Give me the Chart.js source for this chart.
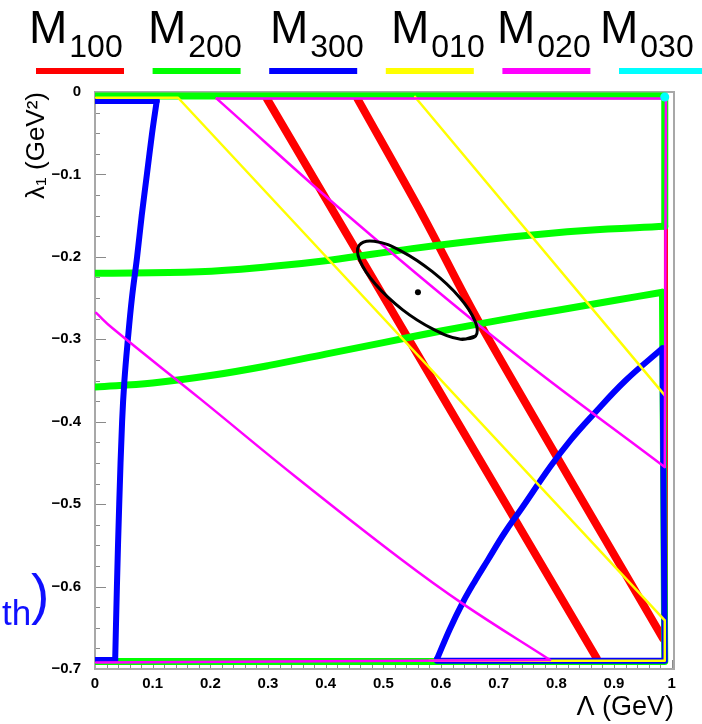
<!DOCTYPE html>
<html>
<head>
<meta charset="utf-8">
<script src="https://cdn.jsdelivr.net/npm/chart.js@4"></script>
<style>
  html, body { margin: 0; padding: 0; background: #fff; }
  canvas { display: block; }
</style>
</head>
<body>
<canvas id="plot" width="702" height="724"></canvas>
<script>
// moment labels (subscripts) and their colours
const moments = ["100", "200", "300", "010", "020", "030"];
const colors = ["#ff0000", "#00ff00", "#0000ff", "#ffff00", "#ff00ff", "#00ffff"];

// axis ticks
const xTicks = [0, 0.1, 0.2, 0.3, 0.4, 0.5, 0.6, 0.7, 0.8, 0.9, 1];
const xTickLabels = ["0", "0.1", "0.2", "0.3", "0.4", "0.5", "0.6", "0.7", "0.8", "0.9", "1"];
const yTicks = [0, -0.1, -0.2, -0.3, -0.4, -0.5, -0.6, -0.7];
const yTickLabels = ["0", "\u22120.1", "\u22120.2", "\u22120.3", "\u22120.4", "\u22120.5", "\u22120.6", "\u22120.7"];

// contour bands, [Lambda, lambda1] pairs; "edge" parts run along the plot border
const m100a = [[0.298, -0.008], [0.870, -0.687]];
const m100b = [[0.455, -0.008], [0.570, -0.152], [0.665, -0.278], [0.985, -0.663]];
const m100edge = [[0.990, -0.163], [0.990, -0.663]];

const m200edgeA = [[0, -0.005], [0.988, -0.005], [0.988, -0.163]];
const m200a = [[0.988, -0.163], [0.85, -0.168], [0.72, -0.176], [0.55, -0.190], [0.407, -0.204],
  [0.30, -0.212], [0.18, -0.218], [0, -0.220]];
const m200b = [[0, -0.358], [0.1, -0.353], [0.2, -0.344], [0.3, -0.332], [0.4, -0.318],
  [0.5, -0.304], [0.6, -0.290], [0.7, -0.277], [0.8, -0.265], [0.9, -0.253], [0.984, -0.243]];
const m200edgeB = [[0.984, -0.243], [0.988, -0.691], [0, -0.691]];

const m300edgeA = [[0.002, -0.011], [0.107, -0.011]];
const m300a = [[0.107, -0.011], [0.099, -0.05], [0.090, -0.1], [0.081, -0.15], [0.073, -0.2],
  [0.064, -0.25], [0.057, -0.3], [0.051, -0.35], [0.047, -0.4], [0.042, -0.5], [0.038, -0.6],
  [0.035, -0.689]];
const m300edgeA2 = [[0.035, -0.689], [0.002, -0.689]];
const m300b = [[0.593, -0.688], [0.615, -0.652], [0.638, -0.619], [0.660, -0.592], [0.681, -0.568],
  [0.710, -0.535], [0.740, -0.505], [0.789, -0.455], [0.825, -0.422], [0.863, -0.392],
  [0.920, -0.350], [0.984, -0.311]];
const m300edgeB = [[0.984, -0.311], [0.988, -0.690], [0.593, -0.690], [0.593, -0.688]];

const m010a = [[0.002, -0.007], [0.144, -0.007], [0.988, -0.641], [0.988, -0.690], [0.580, -0.690]];
const m010b = [[0.555, -0.006], [0.988, -0.368]];

const m020a = [[0.211, -0.008], [0.442, -0.152], [0.714, -0.310], [0.988, -0.455]];
const m020edgeA = [[0.988, -0.455], [0.990, -0.008], [0.211, -0.008]];
const m020b = [[0.002, -0.268], [0.031, -0.287], [0.182, -0.372], [0.350, -0.468], [0.529, -0.566],
  [0.638, -0.621], [0.789, -0.689]];
const m020edgeB = [[0.789, -0.689], [0.002, -0.692]];

const m030 = [[0.988, -0.006]];

// fit contour and best point
const fitContour = [[0.660, -0.296], [0.634, -0.300], [0.587, -0.288], [0.533, -0.264], [0.486, -0.233],
  [0.459, -0.204], [0.458, -0.186], [0.484, -0.181], [0.531, -0.193], [0.585, -0.218],
  [0.632, -0.249], [0.659, -0.278], [0.660, -0.296], [0.634, -0.300]];
const bestFit = [[0.560, -0.243]];

const toXY = pts => pts.map(p => ({ x: p[0], y: p[1] }));

function band(points, color, width, tension) {
  return {
    data: toXY(points),
    showLine: true,
    borderColor: color,
    backgroundColor: color,
    borderWidth: width,
    borderJoinStyle: "round",
    borderCapStyle: "round",
    pointRadius: 0,
    tension: tension || 0,
    fill: false
  };
}

const datasets = [
  band(m100edge, colors[0], 4),
  band(m100a, colors[0], 8),
  band(m100b, colors[0], 8, 0.3),
  band(m200edgeA, colors[1], 7),
  band(m200a, colors[1], 7, 0.4),
  band(m200b, colors[1], 7, 0.4),
  band(m200edgeB, colors[1], 7),
  band(m300edgeA, colors[2], 6),
  band(m300a, colors[2], 6, 0.4),
  band(m300edgeA2, colors[2], 6),
  band(m300b, colors[2], 6, 0.4),
  band(m300edgeB, colors[2], 6),
  band(m010a, colors[3], 2.5),
  band(m010b, colors[3], 2.5),
  band(m020a, colors[4], 2.5, 0.4),
  band(m020edgeA, colors[4], 2.5),
  band(m020b, colors[4], 2.5, 0.4),
  band(m020edgeB, colors[4], 2.5),
  { data: toXY(m030), showLine: false, pointRadius: 4.5, pointBorderWidth: 0, backgroundColor: colors[5] },
  band(fitContour, "#000000", 3, 0.4),
  { data: toXY(bestFit), showLine: false, pointRadius: 3, pointBorderWidth: 0, backgroundColor: "#000000" }
];
// later datasets go on top
datasets.forEach((d, i) => { d.order = datasets.length - i; });

const decor = {
  id: "decor",
  beforeDatasetsDraw(chart) {
    const { ctx, chartArea: a, scales: { x, y } } = chart;
    ctx.save();
    ctx.strokeStyle = "#8a8a8a";
    ctx.lineWidth = 1;
    ctx.beginPath();
    for (let i = 0; i <= 50; i++) {
      const px = Math.round(x.getPixelForValue(i * 0.02)) + 0.5;
      const len = i % 5 === 0 ? 9 : 5;
      ctx.moveTo(px, a.bottom);
      ctx.lineTo(px, a.bottom - len);
    }
    for (let i = 0; i <= 28; i++) {
      const py = Math.round(y.getPixelForValue(-i * 0.025)) + 0.5;
      const len = i % 4 === 0 ? 11 : 5;
      ctx.moveTo(a.left, py);
      ctx.lineTo(a.left + len, py);
    }
    ctx.stroke();
    ctx.strokeStyle = "#a8a8a8";
    ctx.lineWidth = 2;
    ctx.strokeRect(a.left, a.top, a.right - a.left, a.bottom - a.top);
    ctx.restore();
  },
  afterDraw(chart) {
    const ctx = chart.ctx;
    const textX = [29, 148, 270, 391, 497, 600];
    ctx.save();
    ctx.fillStyle = "#000";
    ctx.textBaseline = "alphabetic";
    moments.forEach((m, i) => {
      ctx.font = "46px 'Liberation Sans', Arial, sans-serif";
      ctx.fillText("M", textX[i], 43);
      const w = ctx.measureText("M").width;
      ctx.font = "32px 'Liberation Sans', Arial, sans-serif";
      ctx.fillText(m, textX[i] + w + 2, 57);
      // legend swatch
      const bx = 36 + i * 116.6;
      ctx.fillStyle = colors[i];
      ctx.fillRect(bx, 68, i === 5 ? 702 - bx : 88, 6);
      ctx.fillStyle = "#000";
    });
    // blue label cut at the left edge
    ctx.fillStyle = "#1010ff";
    ctx.font = "35px 'Liberation Sans', Arial, sans-serif";
    ctx.fillText("th", 2, 625);
    ctx.font = "55px 'Liberation Sans', Arial, sans-serif";
    ctx.fillText(")", 31, 613);
    ctx.restore();
  }
};

new Chart(document.getElementById("plot"), {
  type: "scatter",
  data: { datasets },
  options: {
    responsive: false,
    animation: false,
    devicePixelRatio: 1,
    events: [],
    layout: { padding: { top: 92, right: 28, left: 0, bottom: 0 } },
    plugins: { legend: { display: false }, tooltip: { enabled: false } },
    scales: {
      x: {
        type: "linear",
        min: 0,
        max: 1.004,
        afterFit: s => { s.height = 55; },
        afterBuildTicks: s => { s.ticks = xTicks.map(v => ({ value: v })); },
        grid: { display: false, drawTicks: false },
        border: { display: false },
        ticks: {
          padding: 6,
          color: "#000",
          maxRotation: 0,
          autoSkip: false,
          font: { family: "'Liberation Sans', Arial, sans-serif", size: 15, weight: "bold" },
          callback: v => xTickLabels[xTicks.indexOf(v)]
        },
        title: {
          display: true,
          text: "\u039b (GeV)",
          align: "end",
          color: "#000",
          padding: 0,
          font: { family: "'Liberation Sans', Arial, sans-serif", size: 27 }
        }
      },
      y: {
        type: "linear",
        min: -0.7,
        max: 0,
        afterFit: s => { s.width = 95; },
        afterBuildTicks: s => { s.ticks = yTicks.map(v => ({ value: v })); },
        grid: { display: false, drawTicks: false },
        border: { display: false },
        ticks: {
          padding: 14,
          color: "#000",
          autoSkip: false,
          font: { family: "'Liberation Sans', Arial, sans-serif", size: 15, weight: "bold" },
          callback: v => yTickLabels[yTicks.indexOf(v)]
        },
        title: {
          display: true,
          text: "\u03bb\u2081 (GeV\u00b2)",
          align: "end",
          color: "#000",
          padding: { top: 21, bottom: 0 },
          font: { family: "'Liberation Sans', Arial, sans-serif", size: 26 }
        }
      }
    }
  },
  plugins: [decor]
});
</script>
</body>
</html>
